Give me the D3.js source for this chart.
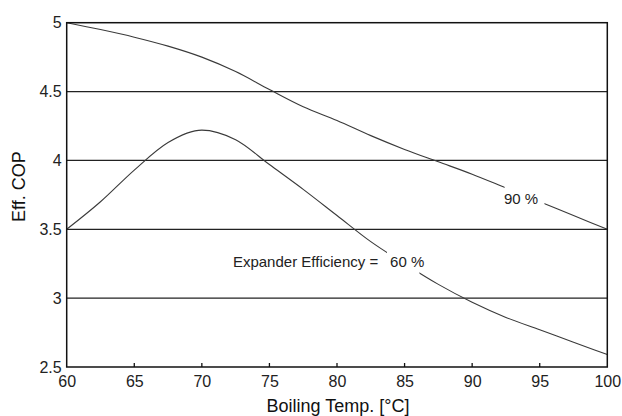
<!DOCTYPE html>
<html lang="en">
<head>
<meta charset="utf-8">
<title>Eff. COP vs Boiling Temp</title>
<script src="https://cdn.jsdelivr.net/npm/d3@7/dist/d3.min.js"></script>
<style type="text/css">
body { margin: 0; background: #fff; }
svg { display: block; font-family: "Liberation Sans", Arial, sans-serif; }
.grid line { stroke: #222; stroke-width: 1.3px; }
.frame { fill: none; stroke: #111; stroke-width: 1.5px; }
.curve { fill: none; stroke: #3a3a3a; stroke-width: 1.1px; }
.axis text { fill: #222; font-size: 16px; }
.label { fill: #222; font-size: 15px; }
.title { fill: #111; font-size: 18px; }
</style>
</head>
<body>
<div id="chart"></div>
<script type="text/javascript">
"use strict";

// Data
var temps  = [60, 62.5, 65, 67.5, 70, 72.5, 75, 77.5, 80, 82.5, 85, 87.5, 90, 92.5, 95, 97.5, 100];
var eff90  = [5.0, 4.95, 4.895, 4.83, 4.75, 4.645, 4.515, 4.39, 4.29, 4.18, 4.08, 3.99, 3.90, 3.80, 3.70, 3.60, 3.5];
var eff60  = [3.5, 3.70, 3.93, 4.13, 4.22, 4.15, 3.97, 3.79, 3.60, 3.41, 3.25, 3.10, 2.97, 2.86, 2.77, 2.68, 2.59];
var xTicks = [60, 65, 70, 75, 80, 85, 90, 95, 100];
var yTicks = [2.5, 3, 3.5, 4, 4.5, 5];
var gridValues = [3, 3.5, 4, 4.5];

var width = 622, height = 416;
var margin = {left: 66.7, top: 22.7, right: 14.7, bottom: 49};
var innerW = width - margin.left - margin.right;
var innerH = height - margin.top - margin.bottom;

var x = d3.scaleLinear().domain([60, 100]).range([0, innerW]);
var y = d3.scaleLinear().domain([2.5, 5]).range([innerH, 0]);

var svg = d3.select("#chart").append("svg")
    .attr("width", width)
    .attr("height", height);

var g = svg.append("g")
    .attr("transform", "translate(" + margin.left + "," + margin.top + ")");

// horizontal grid
g.append("g").attr("class", "grid")
  .selectAll("line")
  .data(gridValues)
  .enter().append("line")
    .attr("x1", 0).attr("x2", innerW)
    .attr("y1", function(d) { return y(d); })
    .attr("y2", function(d) { return y(d); });

var line = d3.line()
    .x(function(d) { return x(d[0]); })
    .y(function(d) { return y(d[1]); })
    .curve(d3.curveMonotoneX);

g.append("path")
    .datum(d3.zip(temps, eff90))
    .attr("class", "curve")
    .attr("d", line);

g.append("path")
    .datum(d3.zip(temps, eff60))
    .attr("class", "curve")
    .attr("d", line);

// white masks that break the curves behind their labels
g.append("rect").attr("fill", "#fff")
    .attr("x", x(92.4)).attr("y", y(3.92))
    .attr("width", x(95.35) - x(92.4)).attr("height", y(3.6) - y(3.92));
g.append("rect").attr("fill", "#fff")
    .attr("x", x(83.7)).attr("y", y(3.42))
    .attr("width", x(86.1) - x(83.7)).attr("height", y(3.08) - y(3.42));

g.append("text").attr("class", "label")
    .attr("x", x(92.35)).attr("y", y(3.683))
    .text("90 %");
g.append("text").attr("class", "label")
    .attr("x", x(72.3)).attr("y", y(3.226))
    .text("Expander Efficiency =");
g.append("text").attr("class", "label")
    .attr("x", x(83.93)).attr("y", y(3.226))
    .text("60 %");

// frame: left, bottom, top, right
g.append("rect").attr("class", "frame")
    .attr("x", 0).attr("y", 0)
    .attr("width", innerW).attr("height", innerH);

// x axis
var xAxis = d3.axisBottom(x)
    .tickValues(xTicks)
    .tickSize(0)
    .tickPadding(9)
    .tickFormat(d3.format("d"));
var xg = g.append("g").attr("class", "axis")
    .attr("transform", "translate(0," + innerH + ")")
    .call(xAxis);
xg.select(".domain").remove();

// inner tick marks on bottom
g.append("g")
  .selectAll("line")
  .data(xTicks.slice(1, -1))
  .enter().append("line")
    .attr("x1", function(d) { return x(d); })
    .attr("x2", function(d) { return x(d); })
    .attr("y1", innerH).attr("y2", innerH - 4)
    .attr("stroke", "#111").attr("stroke-width", 1.3);

// y axis
var yAxis = d3.axisLeft(y)
    .tickValues(yTicks)
    .tickSize(0)
    .tickPadding(5)
    .tickFormat(function(d) { return String(d); });
var yg = g.append("g").attr("class", "axis").call(yAxis);
yg.select(".domain").remove();

// axis titles
svg.append("text").attr("class", "title")
    .attr("x", margin.left + innerW / 2 + 1)
    .attr("y", 411.5)
    .attr("text-anchor", "middle")
    .text("Boiling Temp. [°C]");

svg.append("text").attr("class", "title")
    .attr("font-size", "19px")
    .attr("transform", "translate(24.5," + (margin.top + y(3.81)) + ") rotate(-90)")
    .attr("text-anchor", "middle")
    .text("Eff. COP");
</script>
</body>
</html>
